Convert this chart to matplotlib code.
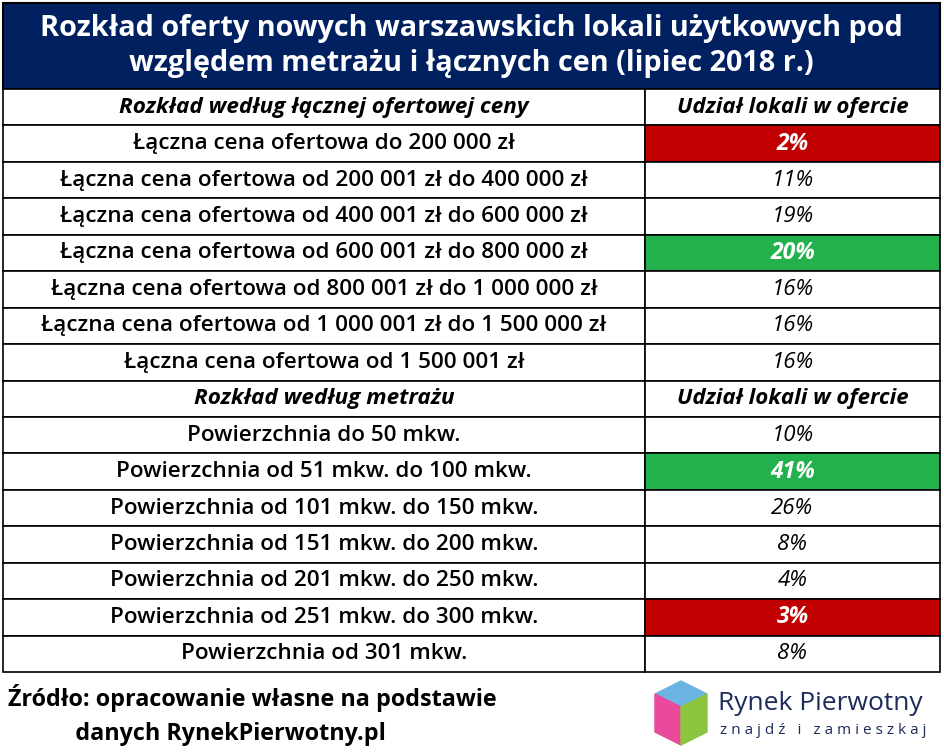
import matplotlib
matplotlib.use("Agg")
import matplotlib.pyplot as plt
from matplotlib.patches import Rectangle, Polygon

plt.rcParams['font.family'] = ['Open Sans', 'DejaVu Sans']

title = "Rozkład oferty nowych warszawskich lokali użytkowych pod\nwzględem metrażu i łącznych cen (lipiec 2018 r.)"
header_price = "Rozkład według łącznej ofertowej ceny"
header_area = "Rozkład według metrażu"
header_share = "Udział lokali w ofercie"
price_labels = [
    "Łączna cena ofertowa do 200 000 zł",
    "Łączna cena ofertowa od 200 001 zł do 400 000 zł",
    "Łączna cena ofertowa od 400 001 zł do 600 000 zł",
    "Łączna cena ofertowa od 600 001 zł do 800 000 zł",
    "Łączna cena ofertowa od 800 001 zł do 1 000 000 zł",
    "Łączna cena ofertowa od 1 000 001 zł do 1 500 000 zł",
    "Łączna cena ofertowa od 1 500 001 zł",
]
price_share = [2, 11, 19, 20, 16, 16, 16]
area_labels = [
    "Powierzchnia do 50 mkw.",
    "Powierzchnia od 51 mkw. do 100 mkw.",
    "Powierzchnia od 101 mkw. do 150 mkw.",
    "Powierzchnia od 151 mkw. do 200 mkw.",
    "Powierzchnia od 201 mkw. do 250 mkw.",
    "Powierzchnia od 251 mkw. do 300 mkw.",
    "Powierzchnia od 301 mkw.",
]
area_share = [10, 41, 26, 8, 4, 3, 8]
# highlight: 'min' red, 'max' green
price_mark = {0: "min", 3: "max"}
area_mark = {5: "min", 1: "max"}
source = "Źródło: opracowanie własne na podstawie\n           danych RynekPierwotny.pl"

RED = "#c00000"
GREEN = "#23b14d"
NAVY = "#002060"

fig = plt.figure(figsize=(9.45, 7.54), dpi=100)
ax = fig.add_axes([0, 0, 1, 1])
ax.set_xlim(0, 945)
ax.set_ylim(754, 0)
ax.axis("off")

x0, xm, x1 = 3, 645, 940
ax.add_patch(Rectangle((x0, 3), x1 - x0, 86, facecolor=NAVY, edgecolor="black", lw=1.5))
ax.text((x0 + x1) / 2, 46, title, color="white", ha="center", va="center",
        fontsize=20.8, fontweight="bold", linespacing=1.3)

rows = [(header_price, header_share, None, True)]
for i, (l, v) in enumerate(zip(price_labels, price_share)):
    rows.append((l, f"{v}%", price_mark.get(i), False))
rows.append((header_area, header_share, None, True))
for i, (l, v) in enumerate(zip(area_labels, area_share)):
    rows.append((l, f"{v}%", area_mark.get(i), False))

top, bottom = 89, 672
h = (bottom - top) / len(rows)
for k, (lab, val, mark, head) in enumerate(rows):
    y = top + k * h
    ax.add_patch(Rectangle((x0, y), xm - x0, h, facecolor="white", edgecolor="black", lw=1.2))
    fc = {"min": RED, "max": GREEN}.get(mark, "white")
    ax.add_patch(Rectangle((xm, y), x1 - xm, h, facecolor=fc, edgecolor="black", lw=1.2))
    cy = y + h / 2
    ax.text((x0 + xm) / 2, cy, lab, ha="center", va="center", fontsize=16.2,
            style="italic" if head else "normal", fontweight="bold" if head else "semibold")
    if head:
        ax.text((xm + x1) / 2, cy, val, ha="center", va="center", fontsize=16,
                style="italic", fontweight="bold")
    elif mark:
        ax.text((xm + x1) / 2, cy, val, ha="center", va="center", fontsize=16.5,
                style="italic", fontweight="bold", color="white")
    else:
        ax.text((xm + x1) / 2, cy, val, ha="center", va="center", fontsize=16,
                style="italic")

ax.text(8, 715, source, ha="left", va="center", fontsize=16.8, fontweight="bold", linespacing=1.5)

# logo cube
ax.add_patch(Polygon([[655, 694], [681, 681], [707, 694], [681, 707]], color="#6cb4e4"))
ax.add_patch(Polygon([[655, 694], [681, 707], [681, 745], [655, 732]], color="#e94a9c"))
ax.add_patch(Polygon([[681, 707], [707, 694], [707, 732], [681, 745]], color="#8cc63f"))
ax.text(718, 704, "Rynek Pierwotny", ha="left", va="center", fontsize=19, color="#1c2b5a")
ax.text(720, 731, "z n a j d ź   i   z a m i e s z k a j", ha="left", va="center",
        fontsize=11, color="#1c2b5a")

fig.savefig("out.png", dpi=100)
